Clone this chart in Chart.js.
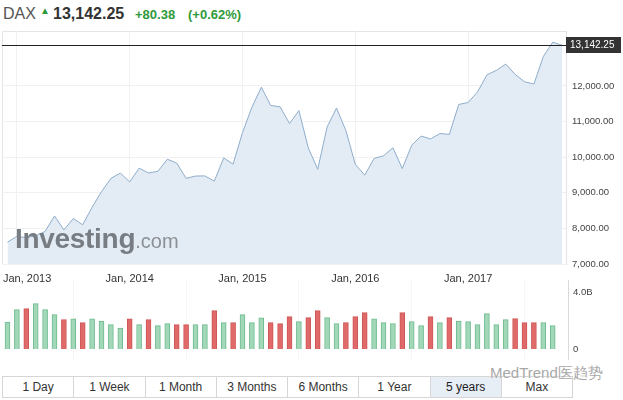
<!DOCTYPE html>
<html>
<head>
<meta charset="utf-8">
<script src="https://cdn.jsdelivr.net/npm/chart.js@4.4.0/dist/chart.umd.min.js"></script>
<style>
  html, body { margin:0; padding:0; background:#fff; width:623px; height:400px; overflow:hidden; font-family:'Liberation Sans', Arial, sans-serif; }
  #wrap { position:relative; width:623px; height:400px; }
  canvas { position:absolute; left:0; }
  #priceCanvas { top:28px; }
  #volCanvas { top:280px; }
  .hdr { position:absolute; top:4px; white-space:nowrap; line-height:20px; }
  #logo { position:absolute; left:15px; top:225px; line-height:28px; white-space:nowrap; z-index:5; pointer-events:none; }
  #logo .a { font-size:28px; font-weight:bold; color:#787d84; letter-spacing:-0.3px; }
  #logo .b { font-size:20px; color:#8c9096; }
  #btns { position:absolute; left:2px; top:376px; height:22px; display:flex; border:1px solid #d6d6d6; box-sizing:border-box; width:571px; }
  #btns div { flex:1; text-align:center; font-size:12px; color:#333; line-height:20px; border-left:1px solid #d6d6d6; }
  #btns div:first-child { border-left:none; }
  #btns div.sel { background:#e7eef6; color:#222; }
  #wm { position:absolute; left:490px; top:364px; font-size:15px; color:#a8a8a8; white-space:nowrap; z-index:6; text-shadow:0 0 1px #fff; }
</style>
</head>
<body>
<div id="wrap">
  <div class="hdr" style="left:3px;font-size:16px;color:#555;">DAX</div>
  <div class="hdr" style="left:40px;top:1px;font-size:10px;color:#2e9a3a;">&#9650;</div>
  <div class="hdr" style="left:53px;font-size:16px;font-weight:bold;color:#333;">13,142.25</div>
  <div class="hdr" style="left:135px;top:5px;font-size:13px;font-weight:bold;color:#2e9a3a;">+80.38</div>
  <div class="hdr" style="left:188px;top:5px;font-size:13px;font-weight:bold;color:#2e9a3a;">(+0.62%)</div>

  <canvas id="priceCanvas" width="623" height="263"></canvas>
  <canvas id="volCanvas" width="623" height="80"></canvas>

  <div id="logo"><span class="a">Investing</span><span class="b">.com</span></div>

  <div id="btns">
    <div>1 Day</div><div>1 Week</div><div>1 Month</div><div>3 Months</div>
    <div>6 Months</div><div>1 Year</div><div class="sel">5 years</div><div>Max</div>
  </div>
  <div id="wm">MedTrend医趋势</div>
</div>

<script>
// ---- Data (monthly, Dec 2012 .. Nov 2017) ----
const prices = [
  7612, 7776, 7741, 7795, 7914, 8349, 7959, 8276, 8103, 8594, 9033, 9405,
  9552, 9306, 9692, 9556, 9603, 9943, 9833, 9407, 9470, 9474, 9327, 9980,
  9806, 10694, 11402, 11966, 11454, 11413, 10945, 11309, 10259, 9660, 10850, 11382,
  10743, 9798, 9495, 9966, 10039, 10263, 9680, 10337, 10593, 10511, 10665, 10640,
  11481, 11535, 11834, 12313, 12438, 12615, 12325, 12118, 12056, 12829, 13230, 13142.25
];
// volume in billions (last month has no bar)
const volumes = [
  1.89, 2.76, 2.83, 3.18, 2.76, 2.41, 2.06, 2.11, 1.85, 2.11, 1.96, 1.71,
  1.47, 2.11, 1.71, 2.06, 1.64, 1.78, 1.71, 1.71, 1.71, 1.71, 2.69, 1.85,
  1.85, 2.41, 1.85, 2.18, 1.85, 1.78, 2.27, 1.92, 2.20, 2.69, 2.20, 1.78,
  1.85, 2.27, 2.55, 2.11, 1.85, 1.78, 2.55, 1.92, 1.64, 2.27, 1.85, 2.20,
  1.96, 1.92, 1.71, 2.48, 1.71, 2.06, 2.13, 1.85, 1.85, 1.85, 1.64
];
const janIndex = [1, 13, 25, 37, 49];
const janLabels = ['Jan, 2013', 'Jan, 2014', 'Jan, 2015', 'Jan, 2016', 'Jan, 2017'];
const priceTicks = [7000, 8000, 9000, 10000, 11000, 12000];
const volTicks = [0, 4];
const lastPrice = 13142.25;

Chart.defaults.font.family = "'Liberation Sans', Arial, sans-serif";
Chart.defaults.animation = false;

const fmt = v => v.toLocaleString('en-US', {minimumFractionDigits: 2, maximumFractionDigits: 2});
const noPad = s => { s.paddingTop = 0; s.paddingBottom = 0; s.paddingLeft = 0; s.paddingRight = 0; };

const X_MIN = -0.585, X_MAX = 59.41;

const decorPlugin = {
  id: 'decor',
  beforeDraw(chart) {
    const {ctx, chartArea: a} = chart;
    ctx.save();
    ctx.strokeStyle = '#e4e4e4';
    ctx.lineWidth = 1;
    ctx.beginPath();
    ctx.moveTo(a.left + 0.5, a.bottom);
    ctx.lineTo(a.left + 0.5, a.top + 0.5);
    ctx.lineTo(a.right, a.top + 0.5);
    ctx.stroke();
    ctx.restore();
  },
  afterDraw(chart) {
    const {ctx, chartArea: a, scales} = chart;
    const y = Math.round(scales.y.getPixelForValue(lastPrice)) + 0.5;
    ctx.save();
    ctx.strokeStyle = '#222';
    ctx.lineWidth = 1;
    ctx.beginPath();
    ctx.moveTo(a.left, y);
    ctx.lineTo(a.right, y);
    ctx.stroke();
    ctx.fillStyle = '#333';
    ctx.fillRect(a.right, y - 8.5, 55, 16);
    ctx.fillStyle = '#fff';
    ctx.font = "10px 'Liberation Sans', Arial, sans-serif";
    ctx.textBaseline = 'middle';
    ctx.textAlign = 'left';
    ctx.fillText(fmt(lastPrice), a.right + 4, y);
    ctx.fillStyle = '#333';
    ctx.font = "11px 'Liberation Sans', Arial, sans-serif";
    janIndex.forEach((idx, k) => {
      const px = scales.x.getPixelForValue(idx);
      const w = ctx.measureText(janLabels[k]).width;
      const left = Math.max(3, px - w / 2);
      ctx.fillText(janLabels[k], left, 251);
    });
    ctx.restore();
  }
};

new Chart(document.getElementById('priceCanvas'), {
  type: 'line',
  data: {
    datasets: [{
      data: prices.map((v, i) => ({x: i, y: v})),
      borderColor: '#8eadcb',
      borderWidth: 1,
      backgroundColor: '#e3ecf4',
      fill: 'start',
      pointRadius: 0,
      tension: 0
    }]
  },
  options: {
    responsive: false,
    layout: {padding: {left: 2, top: 3, right: 0, bottom: 0}},
    plugins: {legend: {display: false}, tooltip: {enabled: false}},
    scales: {
      x: {
        type: 'linear', min: X_MIN, max: X_MAX,
        afterBuildTicks: s => { s.ticks = janIndex.map(v => ({value: v})); },
        afterFit: s => { s.height = 27; noPad(s); },
        grid: {color: '#f1f1f1', drawTicks: false},
        border: {display: false},
        ticks: {display: false}
      },
      y: {
        position: 'right', min: 7000, max: 13544,
        afterBuildTicks: s => { s.ticks = priceTicks.map(v => ({value: v})); },
        afterFit: s => { s.width = 57; noPad(s); },
        grid: {color: '#f1f1f1', drawTicks: false},
        border: {display: true, color: '#e4e4e4'},
        ticks: {
          padding: 6, color: '#444',
          font: {size: 9.5},
          callback: v => fmt(v)
        }
      }
    }
  },
  plugins: [decorPlugin]
});

const upC = '#a2d8b9', upB = '#6dbb8d', dnC = '#e06a6a', dnB = '#cf5656';
const isUp = volumes.map((v, i) => i === 0 || prices[i] >= prices[i - 1]);

new Chart(document.getElementById('volCanvas'), {
  type: 'bar',
  data: {
    datasets: [{
      data: volumes.map((v, i) => ({x: i, y: v})),
      backgroundColor: isUp.map(u => u ? upC : dnC),
      borderColor: isUp.map(u => u ? upB : dnB),
      borderWidth: 1,
      barThickness: 5
    }]
  },
  options: {
    responsive: false,
    layout: {padding: {left: 2, top: 0, right: 0, bottom: 0}},
    plugins: {legend: {display: false}, tooltip: {enabled: false}},
    scales: {
      x: {
        type: 'linear', min: X_MIN, max: X_MIN + (568 - 2) / 9.4, offset: false,
        afterBuildTicks: s => { s.ticks = janIndex.map(v => ({value: v})); },
        afterFit: s => { s.height = 0; noPad(s); },
        grid: {color: '#f6f6f6', drawTicks: false},
        border: {display: false},
        ticks: {display: false}
      },
      y: {
        position: 'right', min: -0.772, max: 4.842,
        afterBuildTicks: s => { s.ticks = volTicks.map(v => ({value: v})); },
        afterFit: s => { s.width = 55; noPad(s); },
        grid: {display: false, drawTicks: false},
        border: {display: true, color: '#dadada'},
        ticks: {
          padding: 5, color: '#444', font: {size: 9.5},
          callback: v => v === 0 ? '0' : v.toFixed(1) + 'B'
        }
      }
    }
  }
});
</script>
</body>
</html>
